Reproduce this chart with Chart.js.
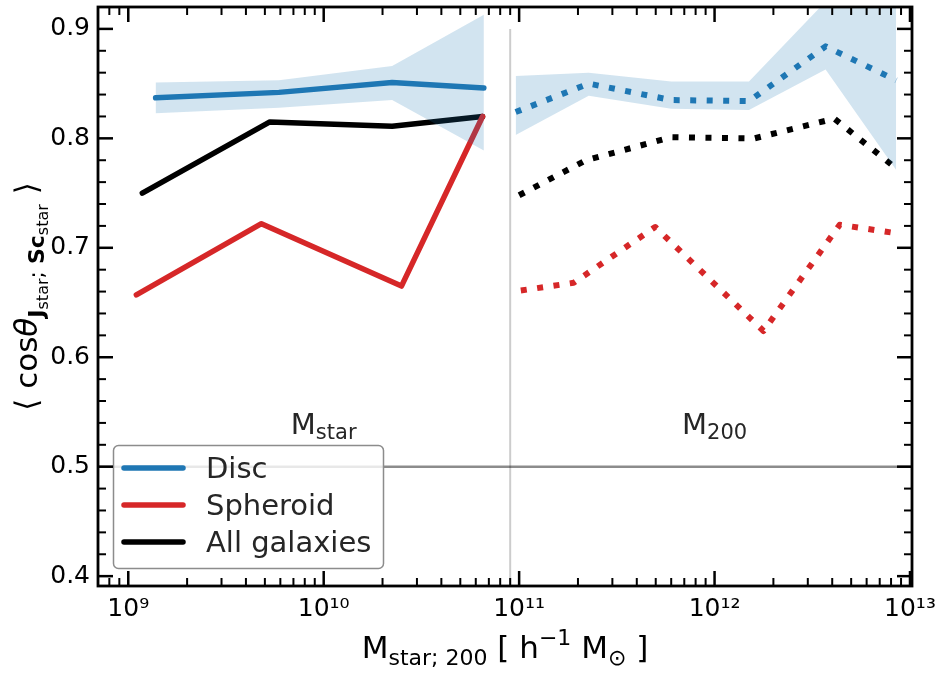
<!DOCTYPE html>
<html>
<head>
<meta charset="utf-8">
<script src="https://cdn.jsdelivr.net/npm/chart.js@4/dist/chart.umd.min.js"></script>
<style>
html, body { margin: 0; padding: 0; background: #fff; }
</style>
</head>
<body>
<canvas id="chart" width="948" height="676"></canvas>
<script>
// M_star bins (solid lines)
const discStarX = [1.38e9, 5.9e9, 2.24e10, 6.6e10];
const discStarY = [0.837, 0.842, 0.851, 0.846];
const discStarLo = [0.823, 0.828, 0.835, 0.789];
const discStarHi = [0.851, 0.853, 0.866, 0.913];
const sphStarX = [1.1e9, 4.8e9, 2.5e10, 6.5e10];
const sphStarY = [0.657, 0.722, 0.665, 0.820];
const allStarX = [1.18e9, 5.3e9, 2.24e10, 6.5e10];
const allStarY = [0.750, 0.815, 0.811, 0.820];

// M_200 bins (dotted lines)
const discHaloX = [9.6e10, 2.27e11, 6.0e11, 1.5e12, 3.7e12, 8.5e12];
const discHaloY = [0.824, 0.850, 0.835, 0.834, 0.884, 0.853];
const discHaloLo = [0.803, 0.839, 0.827, 0.826, 0.863, 0.771];
const discHaloHi = [0.857, 0.860, 0.852, 0.852, 0.925, 0.96];
const sphHaloX = [1.02e11, 1.9e11, 4.97e11, 1.78e12, 4.37e12, 8.0e12];
const sphHaloY = [0.661, 0.668, 0.719, 0.624, 0.721, 0.714];
const allHaloX = [1.0e11, 2.2e11, 6.0e11, 1.6e12, 4.1e12, 8.3e12];
const allHaloY = [0.748, 0.780, 0.801, 0.800, 0.818, 0.774];

const xMin = 7e8, xMax = 1.024e13;
const yMin = 0.391, yMax = 0.92;
const xTickValues = [1e9, 1e10, 1e11, 1e12, 1e13];
const yTickValues = [0.4, 0.5, 0.6, 0.7, 0.8, 0.9];
const splitX = 9e10;
const randomLevel = 0.5;

const BLUE = "#1f77b4", RED = "#d62728", BLACK = "#000000";
const BAND = "rgba(31,119,180,0.2)";
const FONT = "'DejaVu Sans', sans-serif";

const pts = (xs, ys) => xs.map((x, i) => ({ x: x, y: ys[i] }));

function line(label, xs, ys, color, dotted) {
    return {
        label: label,
        data: pts(xs, ys),
        borderColor: color,
        borderWidth: dotted ? 6 : 5.5,
        borderDash: dotted ? [6, 10.5] : [],
        borderCapStyle: dotted ? "butt" : "round",
        borderJoinStyle: "round",
        pointRadius: 0,
        fill: false,
        tension: 0
    };
}

function band(xs, ys, fillTo) {
    return {
        data: pts(xs, ys),
        borderWidth: 0,
        borderColor: "rgba(0,0,0,0)",
        backgroundColor: BAND,
        pointRadius: 0,
        fill: fillTo,
        tension: 0
    };
}

const superDigits = { "0": "⁰", "1": "¹", "2": "²", "3": "³", "4": "⁴", "5": "⁵", "6": "⁶", "7": "⁷", "8": "⁸", "9": "⁹", "-": "⁻" };

// draw a run of text pieces (sizes / offsets) starting at x, baseline y
function richText(ctx, parts, x, y, align) {
    let total = 0;
    parts.forEach(p => {
        ctx.font = (p.style || "") + " " + (p.weight || "normal") + " " + p.size + "px " + FONT;
        p.w = ctx.measureText(p.t).width;
        total += p.w;
    });
    let cx = align === "center" ? x - total / 2 : x;
    ctx.textAlign = "left";
    ctx.textBaseline = "alphabetic";
    parts.forEach(p => {
        ctx.font = (p.style || "") + " " + (p.weight || "normal") + " " + p.size + "px " + FONT;
        ctx.fillText(p.t, cx, y + (p.dy || 0));
        cx += p.w;
    });
}

const decorPlugin = {
    id: "decor",
    afterDatasetsDraw(chart) {
        const ctx = chart.ctx;
        const a = chart.chartArea;
        const xs = chart.scales.x, ys = chart.scales.y;
        ctx.save();

        // region labels
        ctx.fillStyle = "#262626";
        richText(ctx, [{ t: "M", size: 29 }, { t: "star", size: 21, dy: 5 }], xs.getPixelForValue(1e10), ys.getPixelForValue(0.53), "center");
        richText(ctx, [{ t: "M", size: 29 }, { t: "200", size: 21, dy: 5 }], xs.getPixelForValue(1e12), ys.getPixelForValue(0.53), "center");

        // legend
        const lx = 113.5, ly = 445.5, lw = 270, lh = 123;
        ctx.beginPath();
        ctx.roundRect(lx, ly, lw, lh, 5);
        ctx.fillStyle = "rgba(255,255,255,0.8)";
        ctx.fill();
        ctx.strokeStyle = "#8c8c8c";
        ctx.lineWidth = 1.5;
        ctx.stroke();
        const entries = chart.data.datasets.filter(d => d.inLegend);
        entries.forEach((d, i) => {
            const yy = 468 + i * 37;
            ctx.beginPath();
            ctx.moveTo(124, yy);
            ctx.lineTo(183, yy);
            ctx.strokeStyle = d.borderColor;
            ctx.lineWidth = 5.5;
            ctx.lineCap = "round";
            ctx.stroke();
            ctx.fillStyle = "#262626";
            ctx.font = "29px " + FONT;
            ctx.textAlign = "left";
            ctx.textBaseline = "alphabetic";
            ctx.fillText(d.label, 206, yy + 10);
        });

        // inward ticks on all four sides
        ctx.strokeStyle = "#000";
        ctx.lineCap = "butt";
        const tick = (x1, y1, x2, y2, w) => {
            ctx.lineWidth = w;
            ctx.beginPath();
            ctx.moveTo(x1, y1);
            ctx.lineTo(x2, y2);
            ctx.stroke();
        };
        const majL = 15, minL = 8;
        xTickValues.forEach(v => {
            const px = xs.getPixelForValue(v);
            tick(px, a.bottom, px, a.bottom - majL, 2.5);
            tick(px, a.top, px, a.top + majL, 2.5);
        });
        for (let e = 8; e <= 13; e++) {
            for (let m = 2; m <= 9; m++) {
                const v = m * Math.pow(10, e);
                if (v <= xMin || v >= xMax) continue;
                const px = xs.getPixelForValue(v);
                tick(px, a.bottom, px, a.bottom - minL, 2);
                tick(px, a.top, px, a.top + minL, 2);
            }
        }
        yTickValues.forEach(v => {
            const py = ys.getPixelForValue(v);
            tick(a.left, py, a.left + majL, py, 2.5);
            tick(a.right, py, a.right - majL, py, 2.5);
        });
        for (let k = 20; k <= 45; k++) {
            if (k % 5 === 0) continue;
            const py = ys.getPixelForValue(k / 50);
            tick(a.left, py, a.left + minL, py, 2);
            tick(a.right, py, a.right - minL, py, 2);
        }

        // frame
        ctx.lineWidth = 2.8;
        ctx.strokeRect(a.left, a.top, a.right - a.left, a.bottom - a.top);

        // axis titles
        ctx.fillStyle = "#000";
        richText(ctx, [
            { t: "M", size: 31 },
            { t: "star; 200", size: 22, dy: 7 },
            { t: " [ h", size: 31 },
            { t: "−1", size: 22, dy: -13 },
            { t: " M", size: 31 },
            { t: "⊙", size: 22, dy: 7 },
            { t: " ]", size: 31 }
        ], (a.left + a.right) / 2, 658, "center");

        ctx.translate(37, (a.top + a.bottom) / 2);
        ctx.rotate(-Math.PI / 2);
        richText(ctx, [
            { t: "⟨ cos", size: 31 },
            { t: "θ", size: 31, style: "italic" },
            { t: "J", size: 22, weight: "bold", dy: 7 },
            { t: "star", size: 16, dy: 11 },
            { t: "; ", size: 22, dy: 7 },
            { t: "Sc", size: 22, weight: "bold", dy: 7 },
            { t: "star", size: 16, dy: 11 },
            { t: " ⟩", size: 31 }
        ], 0, 0, "center");
        ctx.restore();
    }
};

new Chart(document.getElementById("chart"), {
    type: "line",
    data: {
        datasets: [
            // reference lines
            {
                data: pts([xMin, xMax], [randomLevel, randomLevel]),
                borderColor: "rgba(0,0,0,0.45)", borderWidth: 2.5, pointRadius: 0, fill: false
            },
            {
                data: pts([splitX, splitX], [0.3, 0.9]),
                borderColor: "rgba(0,0,0,0.2)", borderWidth: 2, pointRadius: 0, fill: false
            },
            // scatter bands for the disc population
            band(discStarX, discStarLo, false),
            band(discStarX, discStarHi, "-1"),
            band(discHaloX, discHaloLo, false),
            band(discHaloX, discHaloHi, "-1"),
            Object.assign(line("Disc", discStarX, discStarY, BLUE, false), { inLegend: true }),
            Object.assign(line("Spheroid", sphStarX, sphStarY, RED, false), { inLegend: true }),
            Object.assign(line("All galaxies", allStarX, allStarY, BLACK, false), { inLegend: true }),
            line("Disc M200", discHaloX, discHaloY, BLUE, true),
            line("Spheroid M200", sphHaloX, sphHaloY, RED, true),
            line("All M200", allHaloX, allHaloY, BLACK, true)
        ]
    },
    options: {
        responsive: false,
        animation: false,
        layout: { padding: { left: 0, right: 36, top: 7, bottom: 0 } },
        plugins: {
            legend: { display: false },
            tooltip: { enabled: false }
        },
        scales: {
            x: {
                type: "logarithmic",
                min: xMin,
                max: xMax,
                grid: { display: false, drawTicks: false },
                border: { display: false },
                afterBuildTicks: s => { s.ticks = xTickValues.map(v => ({ value: v })); },
                afterFit: s => { s.height = 90; s.paddingLeft = 0; s.paddingRight = 0; },
                ticks: {
                    autoSkip: false,
                    maxRotation: 0,
                    padding: 8,
                    color: "#000",
                    font: { family: FONT, size: 25 },
                    callback: v => "10" + String(Math.round(Math.log10(v))).split("").map(c => superDigits[c]).join("")
                }
            },
            y: {
                type: "linear",
                min: yMin,
                max: yMax,
                grid: { display: false, drawTicks: false },
                border: { display: false },
                afterBuildTicks: s => { s.ticks = yTickValues.map(v => ({ value: v })); },
                afterFit: s => { s.width = 98; s.paddingTop = 0; s.paddingBottom = 0; },
                ticks: {
                    padding: 8,
                    color: "#000",
                    font: { family: FONT, size: 25 },
                    callback: v => v.toFixed(1)
                }
            }
        }
    },
    plugins: [decorPlugin]
});
</script>
</body>
</html>
